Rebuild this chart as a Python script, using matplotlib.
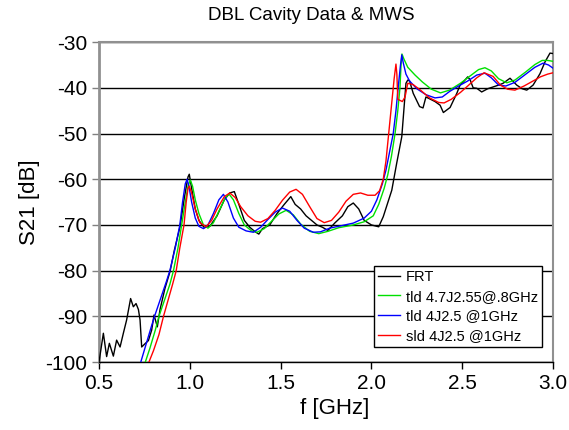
import numpy as np
import matplotlib
matplotlib.use("Agg")
from matplotlib import pyplot as plt

plt.rcParams['font.family'] = ['Liberation Sans', 'DejaVu Sans']

# FRT measurement (noisy)
frt_f = [0.5, 0.524, 0.542, 0.557, 0.579, 0.597, 0.616, 0.634, 0.652, 0.674,
         0.689, 0.704, 0.717, 0.726, 0.735, 0.753, 0.772, 0.79, 0.803, 0.821,
         0.836, 0.863, 0.891, 0.915, 0.946, 0.97, 0.99, 0.997, 1.01, 1.03,
         1.05, 1.08, 1.11, 1.15, 1.19, 1.22, 1.245, 1.27, 1.30, 1.33,
         1.36, 1.38, 1.40, 1.44, 1.48, 1.52, 1.556, 1.58, 1.61, 1.64,
         1.67, 1.70, 1.73, 1.76, 1.80, 1.84, 1.87, 1.90, 1.93, 1.96,
         2.0, 2.04, 2.065, 2.112, 2.139, 2.167, 2.18, 2.19, 2.20, 2.21,
         2.23, 2.265, 2.284, 2.30, 2.31, 2.35, 2.378, 2.396, 2.433, 2.47,
         2.488, 2.506, 2.53, 2.543, 2.56, 2.58, 2.607, 2.64, 2.67, 2.70,
         2.725, 2.763, 2.80, 2.83, 2.855, 2.89, 2.928, 2.956, 2.983, 3.0]
frt_db = [-100, -93.7, -98.8, -95.9, -98.7, -95.2, -96.7, -93.7, -90.8, -86.1,
          -87.9, -87.2, -88.5, -90.8, -96.7, -96.0, -95.3, -93.0, -89.7, -92.3,
          -88.5, -83.9, -80.2, -75.5, -70.4, -64.0, -59.5, -58.9, -62.0, -66.5,
          -69.0, -70.6, -70.3, -68.0, -64.5, -63.0, -62.7, -65.5, -69.0, -70.5,
          -71.5, -72.0, -70.8, -70.0, -67.5, -65.5, -63.8, -65.5, -66.5, -68.0,
          -69.0, -70.0, -70.5, -71.2, -69.5, -68.0, -66.0, -65.2, -66.5, -69.0,
          -70.0, -70.4, -68.2, -62.4, -56.5, -50.7, -44.1, -39.0, -38.3, -38.5,
          -41.2, -44.1, -44.4, -42.0, -42.2, -43.0, -43.8, -45.4, -44.3, -41.2,
          -39.4, -38.7, -37.6, -38.2, -40.0, -40.1, -40.9, -40.2, -39.8, -39.4,
          -39.0, -37.9, -39.4, -40.2, -40.5, -39.4, -36.9, -34.3, -32.4, -32.5]

# tld 4.7J2.55@.8GHz
tld1_f = [0.755, 0.78, 0.81, 0.83, 0.86, 0.89, 0.91, 0.935, 0.955, 0.975,
          0.99, 1.003, 1.015, 1.03, 1.05, 1.075, 1.10, 1.13, 1.16, 1.19,
          1.215, 1.24, 1.27, 1.30, 1.34, 1.37, 1.41, 1.45, 1.49, 1.53,
          1.57, 1.61, 1.66, 1.71, 1.76, 1.82, 1.90, 1.96, 2.01, 2.04,
          2.07, 2.09, 2.11, 2.13, 2.145, 2.157, 2.163, 2.168, 2.18, 2.20,
          2.24, 2.28, 2.33, 2.38, 2.43, 2.49, 2.54, 2.59, 2.625, 2.66,
          2.70, 2.745, 2.79, 2.85, 2.90, 2.94, 2.97, 3.0]
tld1_db = [-100, -97, -93, -90, -86.5, -83, -80, -75, -70, -65,
           -61.5, -60.2, -61.5, -64.5, -67.5, -70, -70.7, -69.5, -67, -64.5,
           -63.2, -64.5, -67.5, -70, -71.3, -71.6, -70.8, -69.2, -67.6, -66.8,
           -67.8, -69.8, -71.4, -71.9, -71.4, -70.6, -70, -69.3, -68, -65.5,
           -62, -59, -55, -50, -45, -40, -35, -32.6, -33.8, -35.5,
           -37.2, -38.7, -40.3, -41.1, -40.5, -39, -37.5, -36, -35.6, -36.3,
           -38, -38.9, -38.3, -36.5, -34.9, -34, -34, -34.2]

# tld 4J2.5 @1GHz
tld2_f = [0.73, 0.76, 0.79, 0.81, 0.84, 0.87, 0.89, 0.92, 0.945, 0.96,
          0.975, 0.985, 0.995, 1.01, 1.03, 1.05, 1.075, 1.10, 1.13, 1.16,
          1.185, 1.21, 1.24, 1.27, 1.31, 1.35, 1.39, 1.43, 1.47, 1.51,
          1.55, 1.59, 1.63, 1.68, 1.72, 1.77, 1.83, 1.90, 1.96, 2.00,
          2.03, 2.06, 2.08, 2.10, 2.12, 2.135, 2.147, 2.16, 2.167, 2.175,
          2.19, 2.21, 2.25, 2.30, 2.35, 2.39, 2.43, 2.48, 2.53, 2.58,
          2.625, 2.66, 2.70, 2.74, 2.79, 2.85, 2.90, 2.945, 2.975, 3.0]
tld2_db = [-100, -96, -92, -89.5, -86, -82.5, -80, -75, -70, -65,
           -61, -60, -61.5, -65, -68.5, -70.3, -70.8, -70, -67.5, -64.5,
           -63.3, -65, -68.5, -70.5, -71.3, -71.6, -70.5, -68.8, -67.2, -66.3,
           -67, -69, -70.7, -71.6, -71.5, -70.7, -70.2, -69.6, -68.5, -67,
           -64.5, -61, -58, -54, -50, -45, -40, -35, -32.8, -34.5,
           -37, -38.5, -40.2, -41.5, -42.2, -42, -40.8, -39.6, -38.5, -37.2,
           -36.8, -37.8, -39.4, -39.6, -38.8, -37, -35.5, -34.6, -35, -35.7]

# sld 4J2.5 @1GHz
sld_f = [0.775, 0.80, 0.83, 0.855, 0.88, 0.905, 0.925, 0.945, 0.968, 0.98,
         0.99, 0.997, 1.01, 1.03, 1.055, 1.09, 1.12, 1.15, 1.19, 1.22,
         1.25, 1.28, 1.32, 1.36, 1.39, 1.43, 1.47, 1.51, 1.55, 1.585,
         1.62, 1.66, 1.70, 1.74, 1.78, 1.82, 1.86, 1.90, 1.94, 1.98,
         2.02, 2.045, 2.065, 2.08, 2.095, 2.11, 2.125, 2.135, 2.14, 2.145,
         2.17, 2.185, 2.20, 2.23, 2.27, 2.32, 2.37, 2.40, 2.44, 2.49,
         2.53, 2.58, 2.62, 2.67, 2.71, 2.75, 2.79, 2.84, 2.89, 2.93,
         2.97, 3.0]
sld_db = [-100, -97.5, -94, -90, -86.5, -83, -80, -75, -70, -65,
          -62, -61.5, -63, -66.5, -69.5, -70.4, -69, -66.5, -63.8, -63,
          -64, -66, -68, -69.2, -69.4, -68.6, -66.8, -64.6, -62.8, -62.2,
          -63.3, -66, -68.6, -69.5, -69, -67.2, -64.8, -63.3, -63, -63.5,
          -63.5, -62.5, -60, -56, -50, -44, -38, -34.8, -37, -42.5,
          -43, -42, -39, -39.3, -40.5, -42.2, -43.2, -43.3, -42.5, -41,
          -39.6, -37.8, -36.7, -37.5, -39.4, -40.3, -40.5, -39.6, -38.5, -37.6,
          -37, -36.7]

yticks = [-100, -90, -80, -70, -60, -50, -40, -30]
xticks = [0.5, 1.0, 1.5, 2.0, 2.5, 3.0]

fig = plt.figure(figsize=(5.69, 4.3), dpi=100)
ax = fig.add_axes([0.174, 0.158, 0.798, 0.744])

for y in yticks:
    ax.axhline(y, color='black', lw=1.0, zorder=1)

ax.plot(frt_f, frt_db, color='black', lw=1.0, label='FRT', zorder=3)
ax.plot(tld1_f, tld1_db, color='#00e000', lw=1.0, label='tld 4.7J2.55@.8GHz', zorder=3)
ax.plot(tld2_f, tld2_db, color='#0000ff', lw=1.0, label='tld 4J2.5 @1GHz', zorder=3)
ax.plot(sld_f, sld_db, color='#ff0000', lw=1.0, label='sld 4J2.5 @1GHz', zorder=3)

ax.set_xlim(0.5, 3.0)
ax.set_ylim(-100, -30)
ax.set_xticks(xticks)
ax.set_xticklabels(['%.1f' % v for v in xticks])
ax.set_yticks(yticks)
ax.set_yticklabels(['%d' % v for v in yticks])
ax.tick_params(axis='both', labelsize=15, direction='out', length=5, width=1)
ax.tick_params(axis='y', colors='#808080', labelcolor='black')

for s in ['left', 'top', 'right']:
    ax.spines[s].set_color('#909090')
ax.spines['left'].set_linewidth(2)
ax.spines['top'].set_linewidth(1.5)
ax.spines['right'].set_linewidth(1.5)
ax.spines['bottom'].set_color('black')
ax.spines['bottom'].set_linewidth(1.0)

ax.set_ylabel('S21 [dB]', fontsize=16, labelpad=4)
fig.text(0.588, 0.05, 'f [GHz]', fontsize=16, ha='center', va='center')
fig.text(0.548, 0.965, 'DBL Cavity Data & MWS', fontsize=13.5, ha='center', va='center')

leg = ax.legend(loc='lower right', bbox_to_anchor=(0.976, 0.047), fontsize=10.5,
                frameon=True, fancybox=False, framealpha=1, edgecolor='black',
                handlelength=1.5, handletextpad=0.4, borderpad=0.3, labelspacing=0.38,
                borderaxespad=0)
leg.get_frame().set_linewidth(1.0)
leg.set_zorder(5)

plt.savefig('out.png', dpi=100)
